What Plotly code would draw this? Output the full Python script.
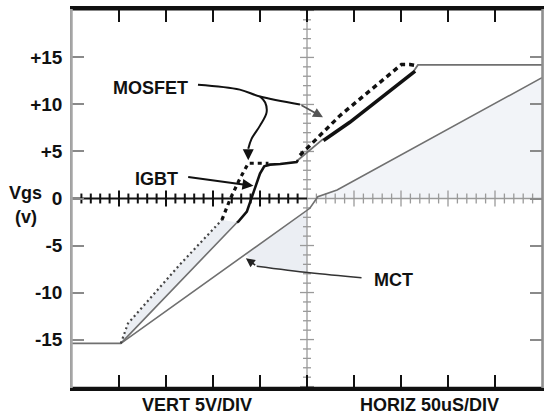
import plotly.graph_objects as go

# ---------------- data (x in divisions of 50 uS, y in volts) ----------------
common_x = [0.0, 1.04, 3.51]
common_v = [-15.4, -15.4, -2.55]

igbt_x = [3.51, 3.54, 3.72, 3.82, 3.91, 4.00, 4.09, 4.21, 4.43, 4.78, 4.81]
igbt_v = [-2.55, -2.45, -1.39, 0.0, 1.24, 2.65, 3.43, 3.60, 3.67, 3.88, 4.09]

mosfet_lo_x = [1.04, 1.19, 2.30, 3.19]
mosfet_lo_v = [-15.4, -13.3, -7.0, -2.27]

mosfet_mid_x = [3.19, 3.36, 3.57, 3.75, 4.18]
mosfet_mid_v = [-2.27, -0.13, 2.09, 3.75, 3.75]

ramp_x = [4.81, 5.34]
ramp_v = [4.09, 6.31]

mosfet_hi_x = [4.85, 5.70, 7.01, 7.19, 7.30]
mosfet_hi_v = [4.59, 8.81, 14.25, 14.25, 14.15]

igbt_hi_x = [5.35, 5.91, 7.30]
igbt_hi_v = [6.17, 8.10, 13.55]

top_x = [7.28, 7.36, 10.0]
top_v = [13.6, 14.2, 14.2]

mct_x = [1.04, 5.06, 5.23, 5.64, 10.0]
mct_v = [-15.4, -1.04, 0.19, 0.90, 12.85]

ytick_vals = [15, 10, 5, 0, -5, -10, -15]
ytick_text = ["+15", "+10", "+5", "0", "-5", "-10", "-15"]
xtick_vals = [1, 2, 3, 4, 5, 6, 7, 8, 9]

# callout leader paths (data coordinates)
mos_lead_x = [2.68, 3.57, 4.00, 4.85]
mos_lead_v = [12.1, 11.58, 10.84, 10.0]
mos_branch_x = [4.00, 4.11, 4.14, 4.00, 3.82, 3.75]
mos_branch_v = [10.84, 10.21, 9.16, 7.75, 6.34, 5.28]
mct_lead_x = [6.16, 5.06, 3.93]
mct_lead_v = [-8.43, -7.90, -7.20]

PXX = 47.0   # px per division
PXY = 9.48   # px per volt
YMAX = 20.15

GREY = "#707070"
FILL = "#ebeef3"
FONT = "Liberation Sans, Arial, sans-serif"

fig = go.Figure()

# ---------------- light shading ----------------
poly_x = mosfet_lo_x + common_x[::-1][:2]
poly_v = mosfet_lo_v + common_v[::-1][:2]
fig.add_trace(go.Scatter(x=poly_x, y=poly_v, fill="toself", fillcolor=FILL,
                         line=dict(width=0), mode="lines", hoverinfo="skip"))
fig.add_trace(go.Scatter(x=[3.70, 5.0, 5.0, 3.93], y=[-5.95, -1.25, -7.95, -7.2],
                         fill="toself", fillcolor=FILL, line=dict(width=0),
                         mode="lines", hoverinfo="skip"))
fig.add_trace(go.Scatter(x=mct_x[2:], y=mct_v[2:], fill="tozeroy", fillcolor="#f2f4f8",
                         line=dict(width=0), mode="lines", hoverinfo="skip"))

# ---------------- graticule ----------------
gx, gy = [], []      # black (left half of centre line)
hx, hy = [], []      # grey (right half + vertical centre line)
gx += [0, 5, None]; gy += [0, 0, None]
hx += [5, 10, None]; hy += [0, 0, None]
for k in range(1, 50):
    if k == 25:
        continue
    x = k * 0.2
    ln = (8 if k % 5 == 0 else 5) / PXY
    if k < 25:
        gx += [x, x, None]; gy += [-ln, ln, None]
    else:
        hx += [x, x, None]; hy += [-ln, ln, None]
hx += [5, 5, None]; hy += [-YMAX, YMAX, None]
for v in range(-20, 21):
    if v == 0:
        continue
    ln = (7 if v % 5 == 0 else 4) / PXX
    hx += [5 - ln, 5 + ln, None]; hy += [v, v, None]
fig.add_trace(go.Scatter(x=hx, y=hy, mode="lines", line=dict(color="#9a9a9a", width=1.3),
                         hoverinfo="skip"))
fig.add_trace(go.Scatter(x=gx, y=gy, mode="lines", line=dict(color="#111111", width=2),
                         hoverinfo="skip"))

# ---------------- traces ----------------
def line(x, y, color, width, dash="solid"):
    fig.add_trace(go.Scatter(x=x, y=y, mode="lines", hoverinfo="skip",
                             line=dict(color=color, width=width, dash=dash)))

line(mct_x, mct_v, GREY, 1.6)
line(common_x, common_v, GREY, 1.6)
line(ramp_x, ramp_v, GREY, 1.8)
line(top_x, top_v, GREY, 1.8)
line(igbt_x, igbt_v, "#111111", 2.6)
line(igbt_hi_x, igbt_hi_v, "#111111", 3.6)
line(mosfet_lo_x, mosfet_lo_v, "#444444", 2.2, "2px,3px")
line(mosfet_mid_x, mosfet_mid_v, "#111111", 3.2, "4px,4px")
line(mosfet_hi_x, mosfet_hi_v, "#111111", 3.4, "5px,4px")

# leader lines
fig.add_trace(go.Scatter(x=mos_lead_x, y=mos_lead_v, mode="lines", hoverinfo="skip",
                         line=dict(color="#111111", width=2, shape="spline")))
fig.add_trace(go.Scatter(x=mos_branch_x, y=mos_branch_v, mode="lines", hoverinfo="skip",
                         line=dict(color="#111111", width=2, shape="spline")))
fig.add_trace(go.Scatter(x=mct_lead_x, y=mct_lead_v, mode="lines", hoverinfo="skip",
                         line=dict(color="#333333", width=1.5, shape="spline")))

annotations = []
def arrow(x0, y0, x1, y1, color="#111111", w=2, size=1.1):
    annotations.append(dict(x=x1, y=y1, ax=x0, ay=y0, xref="x", yref="y",
                            axref="x", ayref="y", text="", showarrow=True,
                            arrowhead=2, arrowsize=size, arrowwidth=w,
                            arrowcolor=color, standoff=0))

arrow(4.85, 10.0, 5.34, 8.63, "#555555", 1.8, 1.1)
arrow(3.75, 5.28, 3.75, 4.06)
arrow(2.44, 2.30, 3.86, 1.35)
arrow(3.93, -7.20, 3.70, -6.35, "#222222", 1.5, 1.2)

def label(text, x, y, ref="x", size=18):
    annotations.append(dict(x=x, y=y, xref="x" if ref == "x" else "paper",
                            yref="y" if ref == "x" else "paper",
                            text=text, showarrow=False,
                            xanchor="center", yanchor="middle",
                            font=dict(family=FONT, size=size, color="#111111")))

label("<b>MOSFET</b>", 1.67, 11.79)
label("<b>IGBT</b>", 1.79, 2.09)
label("<b>MCT</b>", 6.85, -8.67)
label("<b>Vgs</b>", -0.100, 0.5157, ref="paper")
label("<b>(v)</b>", -0.098, 0.4503, ref="paper")
label("<b>VERT 5V/DIV</b>", 0.266, -0.0458, ref="paper")
label("<b>HORIZ 50uS/DIV</b>", 0.7596, -0.0458, ref="paper")

shapes = [
    dict(type="line", xref="paper", yref="paper", x0=0, x1=1, y0=1, y1=1,
         line=dict(color="#111111", width=3), layer="above"),
    dict(type="line", xref="paper", yref="paper", x0=0, x1=1, y0=0, y1=0,
         line=dict(color="#111111", width=2.5), layer="above"),
    dict(type="line", xref="paper", yref="paper", x0=0, x1=0, y0=0, y1=1,
         line=dict(color="#a8a8a8", width=1.5), layer="above"),
    dict(type="line", xref="paper", yref="paper", x0=1, x1=1, y0=0, y1=1,
         line=dict(color="#8a8a8a", width=1.5), layer="above"),
]

fig.update_layout(
    width=551, height=418,
    margin=dict(l=72, r=9, t=6, b=30),
    paper_bgcolor="white", plot_bgcolor="white",
    showlegend=False,
    annotations=annotations,
    shapes=shapes,
    xaxis=dict(range=[0, 10], tickvals=xtick_vals, ticks="inside", ticklen=13,
               tickwidth=2, tickcolor="#111111", showticklabels=False,
               showline=True, linecolor="#111111", linewidth=2.5, mirror="ticks",
               showgrid=False, zeroline=False),
    yaxis=dict(range=[-YMAX, YMAX], tickvals=ytick_vals, ticktext=ytick_text,
               ticks="inside", ticklen=12, tickwidth=1.5, tickcolor="#8a8a8a",
               showline=True, linecolor="#a0a0a0", linewidth=1.5, mirror="ticks",
               showgrid=False, zeroline=False, ticklabelstandoff=4,
               tickfont=dict(family=FONT, size=19, color="#111111", weight="bold")),
)

fig.write_html("out.html")
